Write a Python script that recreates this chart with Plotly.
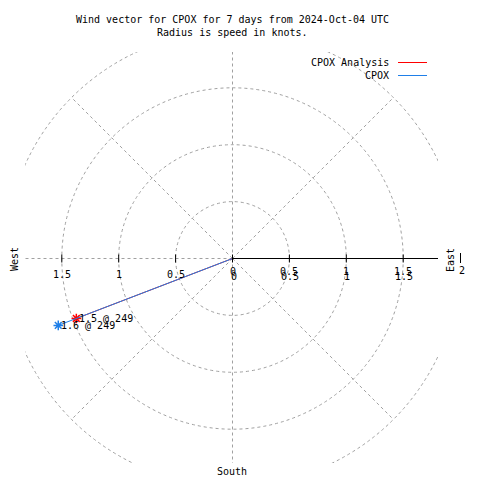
import numpy as np
import plotly.graph_objects as go

# ---------------- data ----------------
series_names = ["CPOX Analysis", "CPOX"]
speeds_kt = [1.47, 1.64]          # radius = speed in knots
directions_deg = [249, 249]       # compass bearing
ring_radii = [0.5, 1.0, 1.5, 2.0]
spoke_angles = [0, 45, 90, 135, 180, 225, 270, 315]
tick_values = [0.5, 1.0, 1.5]
title_lines = ["Wind vector for CPOX for 7 days from 2024-Oct-04 UTC",
               "Radius is speed in knots."]

# ---------------- style ----------------
colors = ["#ff0000", "#1f7fe8"]
FONT = "DejaVu Sans Mono"
GRID = "#a0a0a0"
W = H = 480
S = 113.8          # px per knot
CX, CY = 232.5, 258.5
XL, XR, YT, YB = 25, 438, 52, 463

xrange_ = [(XL - CX) / S, (XR - CX) / S]
yrange_ = [(CY - YB) / S, (CY - YT) / S]


def px(x):
    return x / W


def py(y):
    return 1 - y / H


def fmt(v):
    return ("%g" % v)


fig = go.Figure()

shapes = []
# grid rings
for r in ring_radii:
    shapes.append(dict(type="circle", xref="x", yref="y", x0=-r, x1=r, y0=-r, y1=r,
                       line=dict(color=GRID, width=1, dash="3px,3px"), layer="below"))
# spokes
rmax = max(ring_radii)
for a in spoke_angles:
    if a == 90:
        continue
    t = np.deg2rad(a)
    shapes.append(dict(type="line", xref="x", yref="y", x0=0, y0=0,
                       x1=rmax * np.sin(t), y1=rmax * np.cos(t),
                       line=dict(color=GRID, width=1, dash="3px,3px"), layer="below"))
# solid positive radial axis (east)
shapes.append(dict(type="line", xref="x", yref="y", x0=0, y0=0, x1=rmax, y1=0,
                   line=dict(color="black", width=1), layer="below"))
# tick marks
tick_h = 4 / S
for v in [0] + tick_values + [-t for t in tick_values]:
    shapes.append(dict(type="line", xref="x", yref="y", x0=v, x1=v, y0=-tick_h, y1=tick_h,
                       line=dict(color="black", width=1)))
# tick at radius 2 (outside the clip box)
x2 = round(CX + rmax * S) + 0.5
shapes.append(dict(type="line", xref="paper", yref="paper",
                   x0=px(x2), x1=px(x2), y0=py(253), y1=py(263),
                   line=dict(color="black", width=1)))

annotations = []
# titles
for i, t in enumerate(title_lines):
    annotations.append(dict(text=t, xref="paper", yref="paper", x=px(232), y=py(20 + 13 * i),
                            xanchor="center", yanchor="middle", showarrow=False,
                            font=dict(family=FONT, size=10, color="black")))
# tick labels left (west side)
for v in tick_values:
    annotations.append(dict(text=fmt(v), xref="paper", yref="paper", x=px(CX - v * S), y=py(274.5),
                            xanchor="center", yanchor="middle", showarrow=False,
                            font=dict(family=FONT, size=10, color="black")))
# tick labels right (east side), overprinted twice as in the reference
for v in [0] + tick_values:
    for dx, dy in [(0, 271), (1, 276)]:
        annotations.append(dict(text=fmt(v), xref="paper", yref="paper", x=px(CX + v * S + dx), y=py(dy),
                                xanchor="center", yanchor="middle", showarrow=False,
                                font=dict(family=FONT, size=10, color="black")))
annotations.append(dict(text=fmt(rmax), xref="paper", yref="paper", x=px(CX + rmax * S + 2), y=py(270),
                        xanchor="center", yanchor="middle", showarrow=False,
                        font=dict(family=FONT, size=10, color="black")))
# compass labels
annotations.append(dict(text="West", xref="paper", yref="paper", x=px(14), y=py(259), textangle=-90,
                        xanchor="center", yanchor="middle", showarrow=False,
                        font=dict(family=FONT, size=10, color="black")))
annotations.append(dict(text="East", xref="paper", yref="paper", x=px(450), y=py(260), textangle=-90,
                        xanchor="center", yanchor="middle", showarrow=False,
                        font=dict(family=FONT, size=10, color="black")))
annotations.append(dict(text="South", xref="paper", yref="paper", x=px(232), y=py(471),
                        xanchor="center", yanchor="middle", showarrow=False,
                        font=dict(family=FONT, size=10, color="black")))

# legend (text left of sample line, gnuplot style)
for i, (name, c) in enumerate(zip(series_names, colors)):
    ly = 62.5 + 13 * i
    annotations.append(dict(text=name, xref="paper", yref="paper", x=px(391), y=py(ly),
                            xanchor="right", yanchor="middle", showarrow=False,
                            font=dict(family=FONT, size=10, color="black")))
    shapes.append(dict(type="line", xref="paper", yref="paper", x0=px(398), x1=px(427),
                       y0=py(ly), y1=py(ly), line=dict(color=c, width=1)))

# vectors
for name, spd, d, c in zip(series_names, speeds_kt, directions_deg, colors):
    t = np.deg2rad(d)
    ex, ey = spd * np.sin(t), spd * np.cos(t)
    fig.add_trace(go.Scatter(x=[0, ex], y=[0, ey], mode="lines", name=name,
                             line=dict(color=c, width=1), showlegend=False, hoverinfo="skip"))
    fig.add_trace(go.Scatter(x=[ex], y=[ey], mode="markers", name=name, showlegend=False,
                             marker=dict(symbol="asterisk-open", size=8, color=c,
                                         line=dict(color=c, width=1.5))))
    annotations.append(dict(text=f"{spd:.1f} @ {d}", x=ex, y=ey, xref="x", yref="y",
                            xanchor="left", yanchor="middle", xshift=1, showarrow=False,
                            font=dict(family=FONT, size=10, color="black")))

fig.update_layout(
    width=W, height=H,
    margin=dict(l=0, r=0, t=0, b=0),
    paper_bgcolor="white", plot_bgcolor="white",
    showlegend=False,
    shapes=shapes, annotations=annotations,
    xaxis=dict(domain=[px(XL), px(XR)], range=xrange_, visible=False, fixedrange=True),
    yaxis=dict(domain=[py(YB), py(YT)], range=yrange_, visible=False, fixedrange=True),
)

fig.write_html("out.html", config={"displayModeBar": False},
               post_script="document.body.style.margin='0px';document.body.style.overflow='hidden';")
